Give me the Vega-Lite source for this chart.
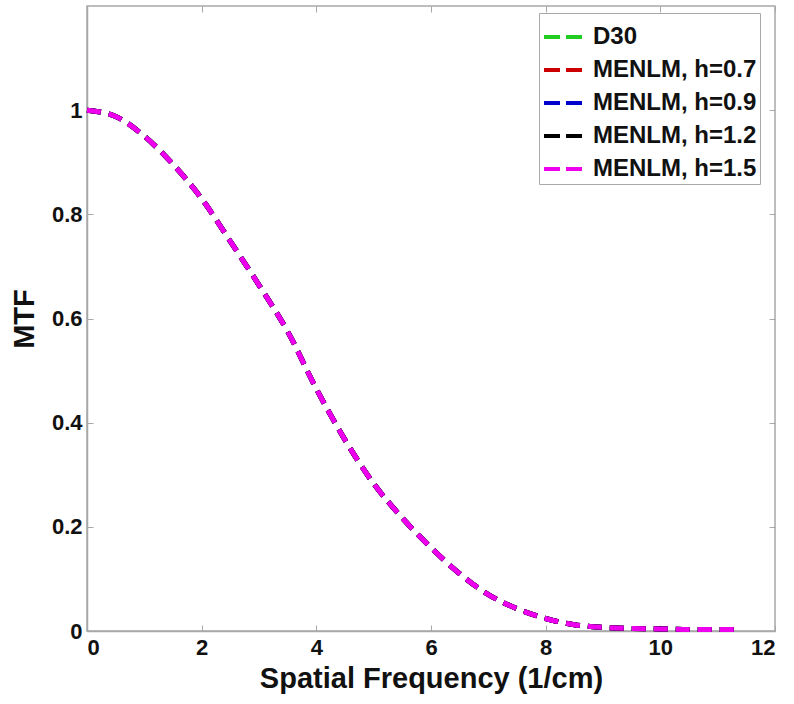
{
  "$schema": "https://vega.github.io/schema/vega-lite/v6.json",
  "width": 688,
  "height": 625,
  "autosize": {"type": "none"},
  "padding": {"left": 87, "top": 6, "right": 19, "bottom": 73},
  "background": "white",
  "config": {
    "view": {"stroke": "#a8a8a8", "strokeWidth": 1.5},
    "font": "Liberation Sans",
    "axis": {
      "grid": false,
      "domainColor": "#a8a8a8",
      "domainWidth": 1.5,
      "tickColor": "#a8a8a8",
      "tickSize": -6,
      "tickWidth": 1,
      "labelFont": "Liberation Sans",
      "labelFontWeight": "bold",
      "labelFontSize": 22,
      "labelColor": "#111111",
      "titleFont": "Liberation Sans",
      "titleFontWeight": "bold",
      "titleFontSize": 29,
      "titleColor": "#111111"
    }
  },
  "data": {"values": [
    {"s":"D30","f":0,"m":1.0},{"s":"D30","f":0.5,"m":0.988},{"s":"D30","f":1,"m":0.95},{"s":"D30","f":1.5,"m":0.896},{"s":"D30","f":2,"m":0.83},{"s":"D30","f":2.5,"m":0.748},{"s":"D30","f":3,"m":0.664},{"s":"D30","f":3.5,"m":0.575},{"s":"D30","f":4,"m":0.465},{"s":"D30","f":4.5,"m":0.367},{"s":"D30","f":5,"m":0.283},{"s":"D30","f":5.5,"m":0.217},{"s":"D30","f":6,"m":0.16},{"s":"D30","f":6.5,"m":0.11},{"s":"D30","f":7,"m":0.07},{"s":"D30","f":7.5,"m":0.043},{"s":"D30","f":8,"m":0.024},{"s":"D30","f":8.5,"m":0.012},{"s":"D30","f":9,"m":0.007},{"s":"D30","f":9.5,"m":0.005},{"s":"D30","f":10,"m":0.004},{"s":"D30","f":10.5,"m":0.003},{"s":"D30","f":11,"m":0.003},{"s":"D30","f":11.35,"m":0.003},
    {"s":"MENLM, h=0.7","f":0,"m":1.0},{"s":"MENLM, h=0.7","f":0.5,"m":0.988},{"s":"MENLM, h=0.7","f":1,"m":0.95},{"s":"MENLM, h=0.7","f":1.5,"m":0.896},{"s":"MENLM, h=0.7","f":2,"m":0.83},{"s":"MENLM, h=0.7","f":2.5,"m":0.748},{"s":"MENLM, h=0.7","f":3,"m":0.664},{"s":"MENLM, h=0.7","f":3.5,"m":0.575},{"s":"MENLM, h=0.7","f":4,"m":0.465},{"s":"MENLM, h=0.7","f":4.5,"m":0.367},{"s":"MENLM, h=0.7","f":5,"m":0.283},{"s":"MENLM, h=0.7","f":5.5,"m":0.217},{"s":"MENLM, h=0.7","f":6,"m":0.16},{"s":"MENLM, h=0.7","f":6.5,"m":0.11},{"s":"MENLM, h=0.7","f":7,"m":0.07},{"s":"MENLM, h=0.7","f":7.5,"m":0.043},{"s":"MENLM, h=0.7","f":8,"m":0.024},{"s":"MENLM, h=0.7","f":8.5,"m":0.012},{"s":"MENLM, h=0.7","f":9,"m":0.007},{"s":"MENLM, h=0.7","f":9.5,"m":0.005},{"s":"MENLM, h=0.7","f":10,"m":0.004},{"s":"MENLM, h=0.7","f":10.5,"m":0.003},{"s":"MENLM, h=0.7","f":11,"m":0.003},{"s":"MENLM, h=0.7","f":11.35,"m":0.003},
    {"s":"MENLM, h=0.9","f":0,"m":1.0},{"s":"MENLM, h=0.9","f":0.5,"m":0.988},{"s":"MENLM, h=0.9","f":1,"m":0.95},{"s":"MENLM, h=0.9","f":1.5,"m":0.896},{"s":"MENLM, h=0.9","f":2,"m":0.83},{"s":"MENLM, h=0.9","f":2.5,"m":0.748},{"s":"MENLM, h=0.9","f":3,"m":0.664},{"s":"MENLM, h=0.9","f":3.5,"m":0.575},{"s":"MENLM, h=0.9","f":4,"m":0.465},{"s":"MENLM, h=0.9","f":4.5,"m":0.367},{"s":"MENLM, h=0.9","f":5,"m":0.283},{"s":"MENLM, h=0.9","f":5.5,"m":0.217},{"s":"MENLM, h=0.9","f":6,"m":0.16},{"s":"MENLM, h=0.9","f":6.5,"m":0.11},{"s":"MENLM, h=0.9","f":7,"m":0.07},{"s":"MENLM, h=0.9","f":7.5,"m":0.043},{"s":"MENLM, h=0.9","f":8,"m":0.024},{"s":"MENLM, h=0.9","f":8.5,"m":0.012},{"s":"MENLM, h=0.9","f":9,"m":0.007},{"s":"MENLM, h=0.9","f":9.5,"m":0.005},{"s":"MENLM, h=0.9","f":10,"m":0.004},{"s":"MENLM, h=0.9","f":10.5,"m":0.003},{"s":"MENLM, h=0.9","f":11,"m":0.003},{"s":"MENLM, h=0.9","f":11.35,"m":0.003},
    {"s":"MENLM, h=1.2","f":0,"m":1.0},{"s":"MENLM, h=1.2","f":0.5,"m":0.988},{"s":"MENLM, h=1.2","f":1,"m":0.95},{"s":"MENLM, h=1.2","f":1.5,"m":0.896},{"s":"MENLM, h=1.2","f":2,"m":0.83},{"s":"MENLM, h=1.2","f":2.5,"m":0.748},{"s":"MENLM, h=1.2","f":3,"m":0.664},{"s":"MENLM, h=1.2","f":3.5,"m":0.575},{"s":"MENLM, h=1.2","f":4,"m":0.465},{"s":"MENLM, h=1.2","f":4.5,"m":0.367},{"s":"MENLM, h=1.2","f":5,"m":0.283},{"s":"MENLM, h=1.2","f":5.5,"m":0.217},{"s":"MENLM, h=1.2","f":6,"m":0.16},{"s":"MENLM, h=1.2","f":6.5,"m":0.11},{"s":"MENLM, h=1.2","f":7,"m":0.07},{"s":"MENLM, h=1.2","f":7.5,"m":0.043},{"s":"MENLM, h=1.2","f":8,"m":0.024},{"s":"MENLM, h=1.2","f":8.5,"m":0.012},{"s":"MENLM, h=1.2","f":9,"m":0.007},{"s":"MENLM, h=1.2","f":9.5,"m":0.005},{"s":"MENLM, h=1.2","f":10,"m":0.004},{"s":"MENLM, h=1.2","f":10.5,"m":0.003},{"s":"MENLM, h=1.2","f":11,"m":0.003},{"s":"MENLM, h=1.2","f":11.35,"m":0.003},
    {"s":"MENLM, h=1.5","f":0,"m":1.0},{"s":"MENLM, h=1.5","f":0.5,"m":0.988},{"s":"MENLM, h=1.5","f":1,"m":0.95},{"s":"MENLM, h=1.5","f":1.5,"m":0.896},{"s":"MENLM, h=1.5","f":2,"m":0.83},{"s":"MENLM, h=1.5","f":2.5,"m":0.748},{"s":"MENLM, h=1.5","f":3,"m":0.664},{"s":"MENLM, h=1.5","f":3.5,"m":0.575},{"s":"MENLM, h=1.5","f":4,"m":0.465},{"s":"MENLM, h=1.5","f":4.5,"m":0.367},{"s":"MENLM, h=1.5","f":5,"m":0.283},{"s":"MENLM, h=1.5","f":5.5,"m":0.217},{"s":"MENLM, h=1.5","f":6,"m":0.16},{"s":"MENLM, h=1.5","f":6.5,"m":0.11},{"s":"MENLM, h=1.5","f":7,"m":0.07},{"s":"MENLM, h=1.5","f":7.5,"m":0.043},{"s":"MENLM, h=1.5","f":8,"m":0.024},{"s":"MENLM, h=1.5","f":8.5,"m":0.012},{"s":"MENLM, h=1.5","f":9,"m":0.007},{"s":"MENLM, h=1.5","f":9.5,"m":0.005},{"s":"MENLM, h=1.5","f":10,"m":0.004},{"s":"MENLM, h=1.5","f":10.5,"m":0.003},{"s":"MENLM, h=1.5","f":11,"m":0.003},{"s":"MENLM, h=1.5","f":11.35,"m":0.003}
  ]},
  "layer": [
    {
      "mark": {"type": "line", "strokeWidth": 5, "strokeDash": [14, 8], "interpolate": "monotone"},
      "encoding": {
        "x": {"field": "f", "type": "quantitative", "scale": {"domain": [0, 12], "nice": false},
              "axis": {"values": [0, 2, 4, 6, 8, 10, 12], "format": "~g", "title": "Spatial Frequency (1/cm)", "labelPadding": 12, "titlePadding": 6}},
        "y": {"field": "m", "type": "quantitative", "scale": {"domain": [0, 1.2], "nice": false},
              "axis": {"values": [0, 0.2, 0.4, 0.6, 0.8, 1], "format": "~g", "title": "MTF", "labelPadding": 11, "titlePadding": 12}},
        "color": {"field": "s", "type": "nominal",
          "scale": {"domain": ["D30", "MENLM, h=0.7", "MENLM, h=0.9", "MENLM, h=1.2", "MENLM, h=1.5"],
                    "range": ["#22cc22", "#cc0000", "#0000cc", "#000000", "#ee00ee"]},
          "legend": {
            "title": null, "orient": "none", "legendX": 452, "legendY": 7,
            "fillColor": "white", "strokeColor": "#a8a8a8", "padding": 3,
            "symbolType": "stroke", "symbolSize": 1444, "symbolStrokeWidth": 4, "symbolDash": [16, 6],
            "labelFont": "Liberation Sans", "labelFontWeight": "bold", "labelFontSize": 24, "labelColor": "#111111",
            "labelOffset": 9, "rowPadding": -10, "labelLimit": 300
          }}
      }
    },
    {
      "mark": {"type": "line", "opacity": 0},
      "encoding": {
        "x": {"field": "f", "type": "quantitative", "axis": {"orient": "top", "labels": false, "title": null, "domain": false, "values": [0, 2, 4, 6, 8, 10, 12]}},
        "y": {"field": "m", "type": "quantitative", "axis": {"orient": "right", "labels": false, "title": null, "domain": false, "values": [0, 0.2, 0.4, 0.6, 0.8, 1]}},
        "detail": {"field": "s"}
      }
    }
  ],
  "resolve": {"axis": {"x": "independent", "y": "independent"}}
}
